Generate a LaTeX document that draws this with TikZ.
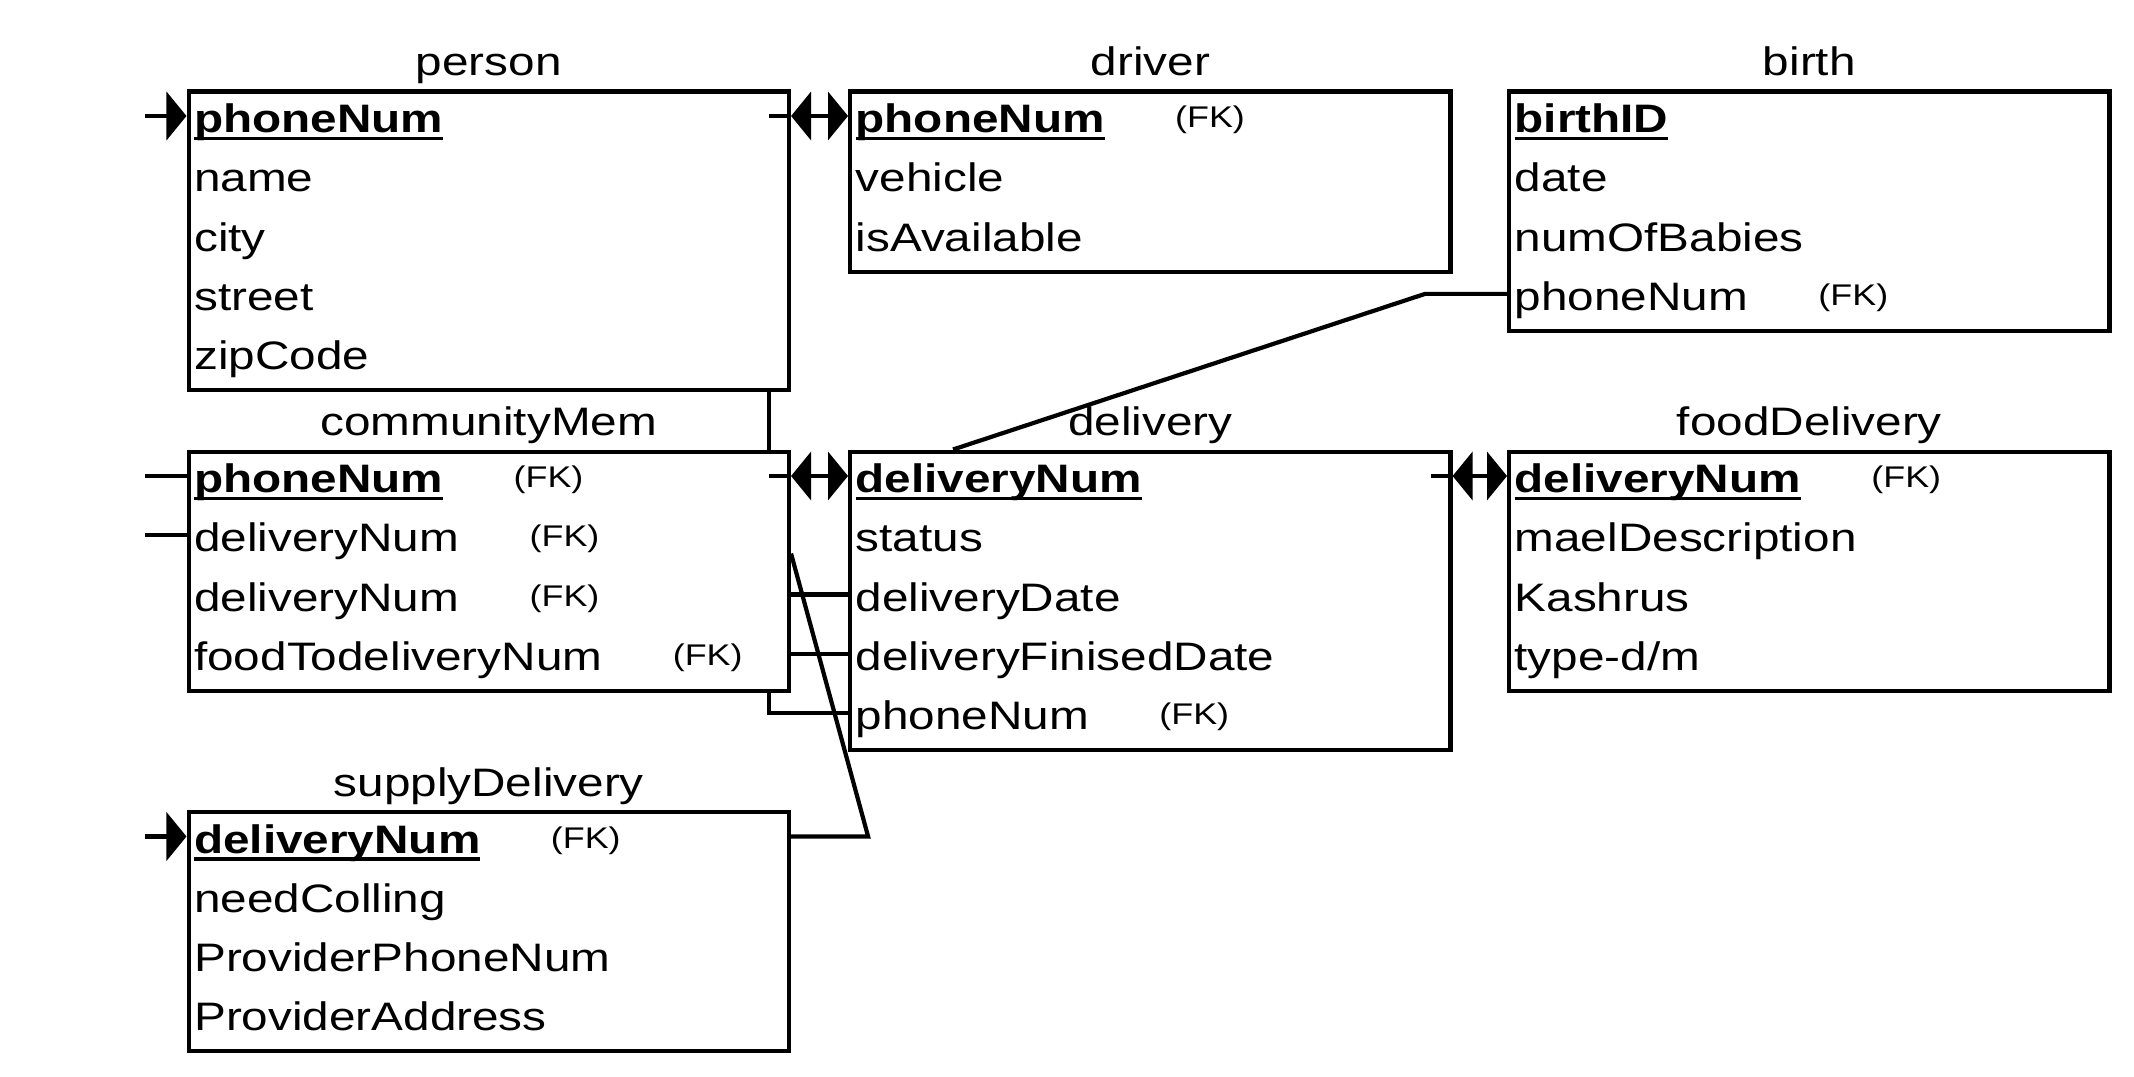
\documentclass[tikz,border=0pt]{standalone}
\usepackage{fontspec}
\setmainfont{Liberation Sans}[FakeStretch=1.2]
\usetikzlibrary{arrows.meta,positioning}

\newsavebox\pkbox
\newcommand{\pkey}[1]{\sbox\pkbox{\bfseries #1}\rlap{\rule[-0.075cm]{\wd\pkbox}{0.035cm}}\usebox\pkbox}

\begin{document}
\begin{tikzpicture}[x=0.01cm, y=-0.01cm,
    >={Triangle[length=0.2cm, width=0.48cm]},
    tbl/.style={draw, line width=0.042cm, anchor=north west, minimum width=6cm, inner sep=0pt},
    ttl/.style={anchor=base, inner sep=0pt, font=\fontsize{11.3pt}{13pt}\selectfont},
    row/.style={anchor=base west, inner sep=0pt, text height=0.43cm, text depth=0.1cm,
        font=\fontsize{11.3pt}{13pt}\selectfont},
    fk/.style={anchor=base west, inner sep=0pt, font=\fontsize{8.5pt}{9pt}\selectfont},
    link/.style={line width=0.042cm}]

	\useasboundingbox (0,0) rectangle (2134,1076);

	% person
	\node[tbl, minimum height=2.98cm] (person) at (186.5,89.5) {};
	\node[ttl] (personT) at ([yshift=0.14cm]person.north) {person};
	\node[row] (person1) at (193.5,132.5) {\pkey{phoneNum}};
	\node[row] (person2) at (193.5,191.8) {name};
	\node[row] (person3) at (193.5,251.1) {city};
	\node[row] (person4) at (193.5,310.4) {street};
	\node[row] (person5) at (193.5,369.7) {zipCode};

	% driver
	\node[tbl, minimum height=1.8cm] (driver) at (848,89.5) {};
	\node[ttl] (driverT) at ([yshift=0.14cm]driver.north) {driver};
	\node[row] (driver1) at (855,132.5) {\pkey{phoneNum}};
	\node[fk] (driverFK) at ([xshift=0.69cm, yshift=0.05cm]driver1.base east) {(FK)};
	\node[row] (driver2) at (855,191.8) {vehicle};
	\node[row] (driver3) at (855,251.1) {isAvailable};

	% birth
	\node[tbl, minimum height=2.39cm] (birth) at (1507,89.5) {};
	\node[ttl] (birthT) at ([yshift=0.14cm]birth.north) {birth};
	\node[row] (birth1) at (1514,132.5) {\pkey{birthID}};
	\node[row] (birth2) at (1514,191.8) {date};
	\node[row] (birth3) at (1514,251.1) {numOfBabies};
	\node[row] (birth4) at (1514,310.4) {phoneNum};
	\node[fk] (birthFK) at ([xshift=0.69cm, yshift=0.05cm]birth4.base east) {(FK)};

	% communityMem
	\node[tbl, minimum height=2.39cm] (comm) at (186.5,449.5) {};
	\node[ttl] (commT) at ([yshift=0.14cm]comm.north) {communityMem};
	\node[row] (comm1) at (193.5,492.5) {\pkey{phoneNum}};
	\node[fk] (commFK1) at ([xshift=0.69cm, yshift=0.05cm]comm1.base east) {(FK)};
	\node[row] (comm2) at (193.5,551.8) {deliveryNum};
	\node[fk] (commFK2) at ([xshift=0.69cm, yshift=0.05cm]comm2.base east) {(FK)};
	\node[row] (comm3) at (193.5,611.1) {deliveryNum};
	\node[fk] (commFK3) at ([xshift=0.69cm, yshift=0.05cm]comm3.base east) {(FK)};
	\node[row] (comm4) at (193.5,670.4) {foodTodeliveryNum};
	\node[fk] (commFK4) at ([xshift=0.69cm, yshift=0.05cm]comm4.base east) {(FK)};

	% delivery
	\node[tbl, minimum height=2.98cm] (delivery) at (848,449.5) {};
	\node[ttl] (deliveryT) at ([yshift=0.14cm]delivery.north) {delivery};
	\node[row] (deliv1) at (855,492.5) {\pkey{deliveryNum}};
	\node[row] (deliv2) at (855,551.8) {status};
	\node[row] (deliv3) at (855,611.1) {deliveryDate};
	\node[row] (deliv4) at (855,670.4) {deliveryFinisedDate};
	\node[row] (deliv5) at (855,729.7) {phoneNum};
	\node[fk] (delivFK) at ([xshift=0.69cm, yshift=0.05cm]deliv5.base east) {(FK)};

	% foodDelivery
	\node[tbl, minimum height=2.39cm] (food) at (1507,449.5) {};
	\node[ttl] (foodT) at ([yshift=0.14cm]food.north) {foodDelivery};
	\node[row] (food1) at (1514,492.5) {\pkey{deliveryNum}};
	\node[fk] (foodFK) at ([xshift=0.69cm, yshift=0.05cm]food1.base east) {(FK)};
	\node[row] (food2) at (1514,551.8) {maelDescription};
	\node[row] (food3) at (1514,611.1) {Kashrus};
	\node[row] (food4) at (1514,670.4) {type-d/m};

	% supplyDelivery
	\node[tbl, minimum height=2.39cm] (supply) at (186.5,810) {};
	\node[ttl] (supplyT) at ([yshift=0.14cm]supply.north) {supplyDelivery};
	\node[row] (supply1) at (193.5,853) {\pkey{deliveryNum}};
	\node[fk] (supplyFK) at ([xshift=0.69cm, yshift=0.05cm]supply1.base east) {(FK)};
	\node[row] (supply2) at (193.5,912.3) {needColling};
	\node[row] (supply3) at (193.5,971.6) {ProviderPhoneNum};
	\node[row] (supply4) at (193.5,1030.9) {ProviderAddress};

	% free ends on the left
	\coordinate (personIn) at ([xshift=-0.41cm]person.west |- person1);
	\coordinate (commIn1) at ([xshift=-0.41cm]comm.west |- comm1);
	\coordinate (commIn2) at ([xshift=-0.41cm]comm.west |- comm2);
	\coordinate (supplyIn) at ([xshift=-0.41cm]supply.west |- supply1);

	\draw[link, ->] (personIn) -- (person.west |- person1);
	\draw[link] ([xshift=-0.22cm]person.east |- person1) -- (person.east |- person1);
	\draw[link, <->] (person.east |- person1) -- (driver.west |- driver1);
	\draw[link] ([xshift=-0.22cm]person.south east) -- ([xshift=-0.22cm]comm.north east);

	\draw[link] (commIn1) -- (comm.west |- comm1);
	\draw[link] (commIn2) -- (comm.west |- comm2);
	\draw[link] ([xshift=-0.22cm]comm.east |- comm1) -- (comm.east |- comm1);
	\draw[link, <->] (comm.east |- comm1) -- (delivery.west |- deliv1);
	\draw[link] (comm.east |- deliv3) -- (delivery.west |- deliv3);
	\draw[link] (comm.east |- deliv4) -- (delivery.west |- deliv4);
	\draw[link] ([xshift=-0.22cm]comm.south east) |- (delivery.west |- deliv5);
	\draw[link] ([yshift=-1.04cm]comm.north east) -- ([xshift=0.77cm]supply.east |- supply1)
		-- (supply.east |- supply1);

	\draw[link] ([xshift=-0.22cm]delivery.east |- deliv1) -- (delivery.east |- deliv1);
	\draw[link, <->] (delivery.east |- deliv1) -- (food.west |- food1);

	\draw[link] (birth.west |- birth4) -- ++(-82,0) -- ([xshift=1.05cm]delivery.north west);

	\draw[link, ->] (supplyIn) -- (supply.west |- supply1);
\end{tikzpicture}
\end{document}
